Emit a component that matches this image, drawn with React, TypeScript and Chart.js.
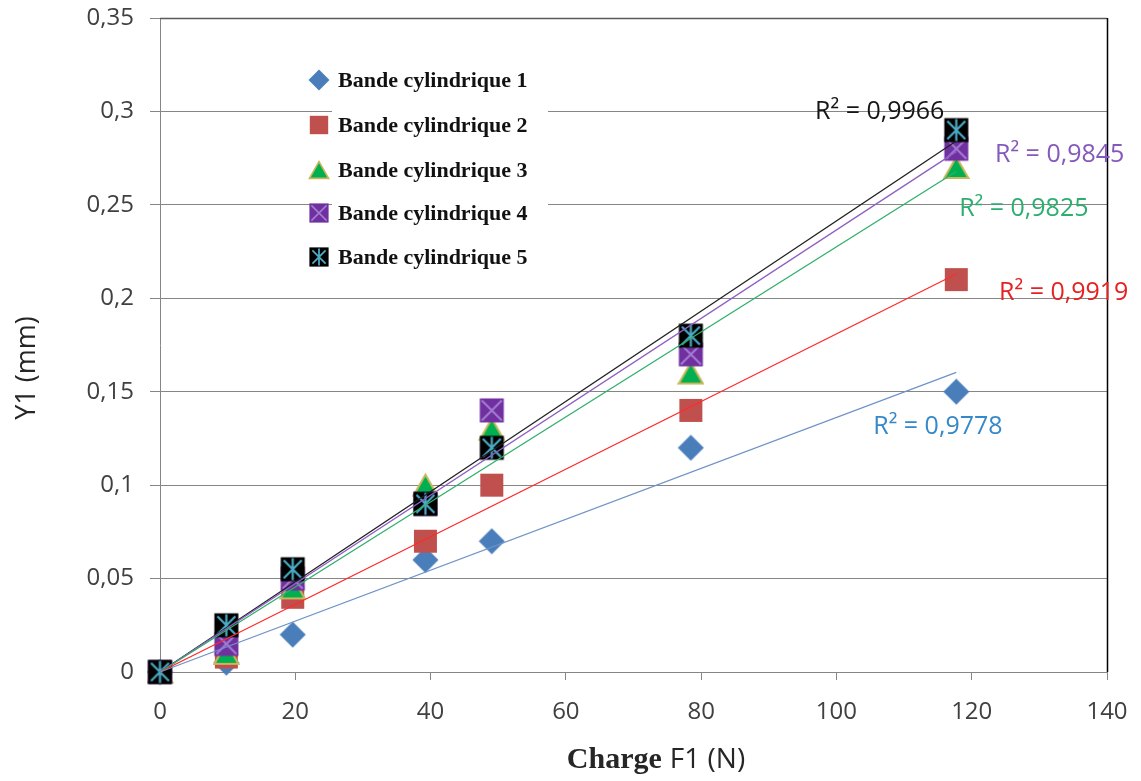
import React, { useEffect, useRef } from "react";
import { Chart, registerables } from "chart.js";

Chart.register(...registerables);

// ---------- Data ----------
const chargeN = [0, 9.81, 19.62, 39.24, 49.05, 78.48, 117.72];
const bande1 = [0, 0.005, 0.02, 0.06, 0.07, 0.12, 0.15];
const bande2 = [0, 0.008, 0.04, 0.07, 0.1, 0.14, 0.21];
const bande3 = [0, 0.01, 0.045, 0.1, 0.13, 0.16, 0.27];
const bande4 = [0, 0.015, 0.05, 0.09, 0.14, 0.17, 0.28];
const bande5 = [0, 0.025, 0.055, 0.09, 0.12, 0.18, 0.29];
const seriesNames = [
  "Bande cylindrique 1",
  "Bande cylindrique 2",
  "Bande cylindrique 3",
  "Bande cylindrique 4",
  "Bande cylindrique 5",
];
const r2Texts = ["R² = 0,9778", "R² = 0,9919", "R² = 0,9825", "R² = 0,9845", "R² = 0,9966"];
// label anchor (data coordinates) for each R² text
const r2AnchorX = [115.0, 133.6, 127.7, 133.0, 106.4];
const r2AnchorY = [0.1313, 0.2028, 0.2481, 0.2767, 0.2997];
const xMin = 0, xMax = 140, xStep = 20;
const yMin = 0, yMax = 0.35, yStep = 0.05;

const allSeries = [bande1, bande2, bande3, bande4, bande5];
const trendColors = ["#6F93C6", "#FF2A2A", "#2FAF6C", "#8E5FC4", "#1E1E1E"];
const r2Colors = ["#3589C8", "#E52222", "#2DAE70", "#8559BC", "#151515"];

// regression through origin (as the spreadsheet trendline with intercept 0)
function slopeThroughOrigin(xs: number[], ys: number[]) {
  let sxy = 0, sxx = 0;
  for (let i = 0; i < xs.length; i++) {
    sxy += xs[i] * ys[i];
    sxx += xs[i] * xs[i];
  }
  return sxy / sxx;
}

function makeMarker(kind: number, scale = 1): HTMLCanvasElement {
  const c = document.createElement("canvas");
  const s = Math.round(27 * scale);
  c.width = s;
  c.height = s;
  const g = c.getContext("2d")!;
  const m = s / 2;
  if (kind === 0) {
    g.fillStyle = "#4A7EBB";
    g.beginPath();
    g.moveTo(m, 0.5);
    g.lineTo(s - 0.5, m);
    g.lineTo(m, s - 0.5);
    g.lineTo(0.5, m);
    g.closePath();
    g.fill();
  } else if (kind === 1) {
    const a = 23 * scale;
    g.fillStyle = "#C0504D";
    g.fillRect(m - a / 2, m - a / 2, a, a);
  } else if (kind === 2) {
    const w = 24 * scale, h = 21 * scale;
    g.fillStyle = "#00B050";
    g.strokeStyle = "#C8B75C";
    g.lineWidth = 2 * scale;
    g.beginPath();
    g.moveTo(m, m - h / 2);
    g.lineTo(m + w / 2, m + h / 2);
    g.lineTo(m - w / 2, m + h / 2);
    g.closePath();
    g.fill();
    g.stroke();
  } else if (kind === 3) {
    const a = 24 * scale;
    const l = m - a / 2;
    g.fillStyle = "#7030A0";
    g.fillRect(l, l, a, a);
    g.strokeStyle = "#A47DD2";
    g.lineWidth = 2 * scale;
    g.beginPath();
    g.moveTo(l + 2, l + 2);
    g.lineTo(l + a - 2, l + a - 2);
    g.moveTo(l + a - 2, l + 2);
    g.lineTo(l + 2, l + a - 2);
    g.stroke();
  } else {
    const a = 24 * scale;
    const l = m - a / 2;
    g.fillStyle = "#000000";
    g.fillRect(l, l, a, a);
    g.strokeStyle = "#4BACC6";
    g.lineWidth = 2.2 * scale;
    g.beginPath();
    g.moveTo(m, l + 1);
    g.lineTo(m, l + a - 1);
    g.moveTo(l + 3, l + 3);
    g.lineTo(l + a - 3, l + a - 3);
    g.moveTo(l + a - 3, l + 3);
    g.lineTo(l + 3, l + a - 3);
    g.stroke();
  }
  return c;
}

export default function App() {
  const ref = useRef<HTMLCanvasElement | null>(null);

  useEffect(() => {
    if (!ref.current) return;
    const markers = [0, 1, 2, 3, 4].map((k) => makeMarker(k));
    const legendMarkers = [0, 1, 2, 3, 4].map((k) => makeMarker(k, 0.8));

    const trendSets = allSeries.map((ys, i) => {
      const k = slopeThroughOrigin(chargeN, ys);
      const x0 = chargeN[0];
      const x1 = chargeN[chargeN.length - 1];
      return {
        type: "line" as const,
        label: "trend" + (i + 1),
        data: [
          { x: x0, y: k * x0 },
          { x: x1, y: k * x1 },
        ],
        borderColor: trendColors[i],
        borderWidth: 1.3,
        pointRadius: 0,
        fill: false,
        clip: false as any,
        order: 0,
      };
    });

    const pointSets = allSeries.map((ys, i) => ({
      type: "scatter" as const,
      label: seriesNames[i],
      data: chargeN.map((x, j) => ({ x, y: ys[j] })),
      pointStyle: markers[i],
      pointRadius: 13,
      showLine: false,
      clip: false as any,
      order: 10 - i,
    }));

    const overlay = {
      id: "overlay",
      afterDraw(chart: any) {
        const { ctx, chartArea, scales } = chart;
        const xs = scales.x, ys = scales.y;
        ctx.save();
        // plot-area top and right borders
        ctx.lineWidth = 1.5;
        ctx.strokeStyle = "#5a5a5a";
        ctx.beginPath();
        ctx.moveTo(chartArea.left, chartArea.top + 0.5);
        ctx.lineTo(chartArea.right, chartArea.top + 0.5);
        ctx.stroke();
        ctx.strokeStyle = "#000";
        ctx.beginPath();
        ctx.moveTo(chartArea.right + 0.5, chartArea.top);
        ctx.lineTo(chartArea.right + 0.5, chartArea.bottom);
        ctx.stroke();

        // legend box
        ctx.fillStyle = "#ffffff";
        ctx.fillRect(332, 55, 216, 222);
        ctx.font = "bold 22px 'Liberation Serif', 'Times New Roman', serif";
        ctx.fillStyle = "#111";
        ctx.textBaseline = "middle";
        ctx.textAlign = "left";
        const rowY = [80, 125, 170, 213, 257];
        for (let i = 0; i < 5; i++) {
          const mk = legendMarkers[i];
          ctx.drawImage(mk, 319 - mk.width / 2, rowY[i] - mk.height / 2);
          ctx.fillText(seriesNames[i], 338, rowY[i] + 1);
        }

        // R² labels
        ctx.font = "25px 'Open Sans', sans-serif";
        ctx.textAlign = "center";
        for (let i = 0; i < 5; i++) {
          ctx.fillStyle = r2Colors[i];
          ctx.fillText(r2Texts[i], xs.getPixelForValue(r2AnchorX[i]), ys.getPixelForValue(r2AnchorY[i]));
        }

        // axis titles
        ctx.fillStyle = "#262626";
        ctx.save();
        ctx.translate(27, 368);
        ctx.rotate(-Math.PI / 2);
        ctx.font = "27px 'Open Sans', sans-serif";
        ctx.textAlign = "center";
        ctx.fillText("Y1 (mm)", 0, 0);
        ctx.restore();

        ctx.textAlign = "left";
        ctx.textBaseline = "alphabetic";
        ctx.font = "bold 30px 'Liberation Serif', 'Times New Roman', serif";
        const w1 = ctx.measureText("Charge").width;
        ctx.font = "28px 'Open Sans', sans-serif";
        const w2 = ctx.measureText("F1 (N)").width;
        const total = w1 + 8 + w2;
        const sx = 656 - total / 2;
        ctx.font = "bold 30px 'Liberation Serif', 'Times New Roman', serif";
        ctx.fillText("Charge", sx, 768);
        ctx.font = "28px 'Open Sans', sans-serif";
        ctx.fillText("F1 (N)", sx + w1 + 8, 768);
        ctx.restore();
      },
    };

    const chart = new Chart(ref.current, {
      type: "scatter",
      data: { datasets: [...trendSets, ...pointSets] as any },
      options: {
        animation: false,
        responsive: false,
        layout: { autoPadding: false, padding: { top: 18, right: 34, left: 0, bottom: 0 } },
        plugins: { legend: { display: false }, tooltip: { enabled: false } },
        scales: {
          x: {
            type: "linear",
            min: xMin,
            max: xMax,
            ticks: {
              stepSize: xStep,
              color: "#404040",
              font: { family: "'Open Sans', sans-serif", size: 24 },
              padding: 18,
              maxRotation: 0,
            },
            grid: { drawOnChartArea: false, drawTicks: true, tickLength: 8, color: "#868686" },
            border: { display: true, color: "#868686", width: 1 },
            afterFit: (s: any) => {
              s.height = 109;
              s.paddingLeft = 0;
              s.paddingRight = 0;
            },
          },
          y: {
            type: "linear",
            min: yMin,
            max: yMax,
            ticks: {
              stepSize: yStep,
              color: "#404040",
              font: { family: "'Open Sans', sans-serif", size: 24 },
              padding: 16,
              callback: (v: any) => String(Math.round(Number(v) * 100) / 100).replace(".", ","),
            },
            grid: { color: "#868686", lineWidth: 1, tickLength: 10 },
            border: { display: true, color: "#868686", width: 1 },
            afterFit: (s: any) => {
              s.width = 160;
              s.paddingTop = 0;
              s.paddingBottom = 0;
            },
          },
        },
      },
      plugins: [overlay],
    });
    return () => chart.destroy();
  }, []);

  return (
    <div style={{ position: "absolute", left: 0, top: 0, width: 1141, height: 781, background: "#fff" }}>
      <canvas ref={ref} width={1141} height={781} style={{ display: "block", width: 1141, height: 781 }} />
    </div>
  );
}
